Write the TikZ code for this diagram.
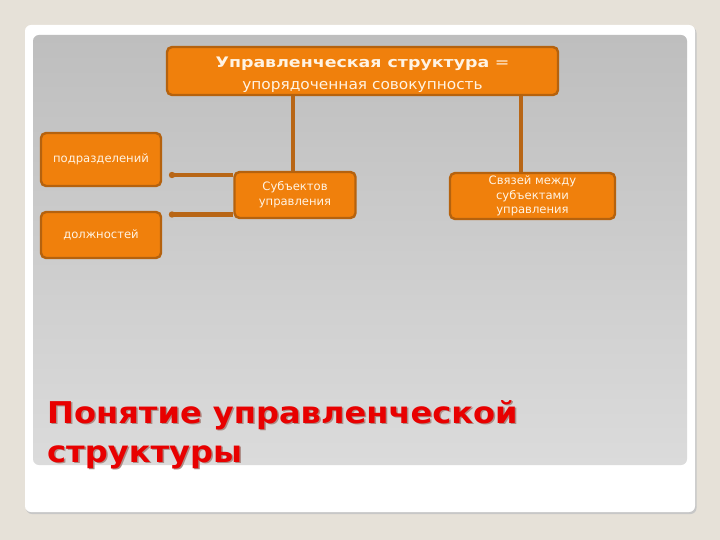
\documentclass[tikz,border=0pt]{standalone}
\usepackage{graphicx}
\usepackage{fontspec}
\setmainfont{DejaVu Sans}
\usetikzlibrary{calc}
\definecolor{bgbeige}{HTML}{E6E1D8}
\definecolor{panTop}{HTML}{BEBEBE}
\definecolor{panBot}{HTML}{DBDBDB}
\definecolor{boxfill}{HTML}{F0800C}
\definecolor{boxedge}{HTML}{B5620E}
\definecolor{lnk}{HTML}{B86616}
\definecolor{boxtext}{HTML}{FFF3E3}
\definecolor{titlered}{HTML}{E80000}
\definecolor{titleshadow}{HTML}{8A5A50}
\tikzset{
  obox/.style={draw=boxedge, line width=2.4pt, fill=boxfill, rounded corners=5pt,
    text=boxtext, align=center, inner sep=1pt},
  smalltext/.style={font=\fontsize{11.6}{14.8}\selectfont},
  link/.style={draw=lnk, line width=4.4pt},
  titletext/.style={anchor=base west, font=\fontsize{30}{36}\selectfont\bfseries, inner sep=0pt, xscale=1.07}
}
\begin{document}
\begin{tikzpicture}[x=1pt,y=-1pt]
\useasboundingbox (0,0) rectangle (720,540);
\fill[bgbeige] (0,0) rectangle (720,540);
% card shadow
\fill[black!22, rounded corners=6pt] (26,27) rectangle (696.5,514);
\fill[white, rounded corners=6pt] (25,25) rectangle (695,512);
% panel
\shade[top color=panTop, bottom color=panBot, rounded corners=6pt] (33,35) rectangle (687,465);

% boxes
\node[obox, minimum width=391pt, minimum height=48pt, font=\fontsize{14.5}{17}\selectfont] (top) at (362.5,71)
  {\rule{0pt}{19pt}\scalebox{1.2}[1]{\textbf{Управленческая структура} =}\\[5pt]
   \scalebox{1.06}[1]{упорядоченная совокупность}};
\node[obox, minimum width=120pt, minimum height=53pt, smalltext] (podr) at (101,159.5) {подразделений};
\node[obox, minimum width=120pt, minimum height=46pt, smalltext] (dolzh) at (101,235) {должностей};
\node[obox, minimum width=121pt, minimum height=46pt, smalltext] (subj) at (295,195) {Субъектов\\управления};
\node[obox, minimum width=165pt, minimum height=46pt, smalltext] (svyaz) at (532.5,196) {Связей между\\субъектами\\управления};

% connectors
\coordinate (lx) at (293,0);
\coordinate (rx) at (521,0);
\coordinate (endA) at (172,175);
\coordinate (endB) at (172,214.5);
\draw[link] (top.south -| lx) -- (subj.north -| lx);
\draw[link] (top.south -| rx) -- (svyaz.north -| rx);
\draw[link] (subj.west |- endA) -- (endA);
\draw[link] (subj.west |- endB) -- (endB);
\fill[lnk] (endA) circle (3.2pt);
\fill[lnk] (endB) circle (3.2pt);

% title
\node[titletext, text=titleshadow!70] (t1s) at (48.5,424.5) {Понятие управленческой};
\node[titletext, text=titleshadow!70] (t2s) at (48.5,463.5) {структуры};
\node[titletext, text=titlered] (t1) at (47,423) {Понятие управленческой};
\node[titletext, text=titlered] (t2) at (47,462) {структуры};
\end{tikzpicture}
\end{document}
